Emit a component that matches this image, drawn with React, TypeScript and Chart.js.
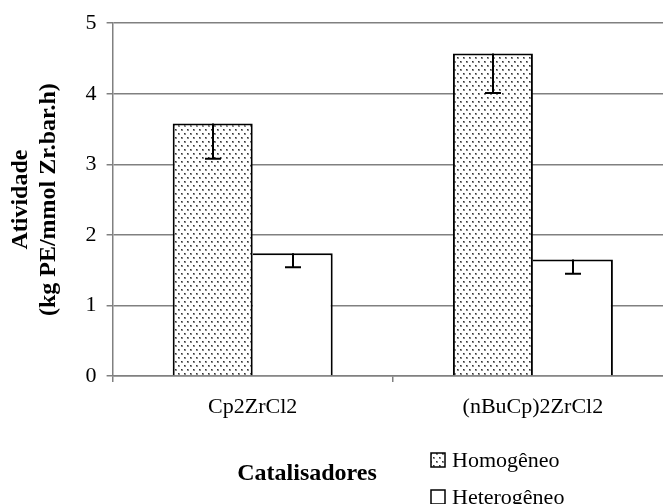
import React, { useEffect, useRef } from 'react';
import { Chart, registerables } from 'chart.js';

Chart.register(...registerables);

const categories = ['Cp2ZrCl2', '(nBuCp)2ZrCl2'];
const seriesNames = ['Homogêneo', 'Heterogêneo'];
const homogeneo = [3.58, 4.57];
const heterogeneo = [1.74, 1.65];
const homogeneoErr = [0.5, 0.56];
const heterogeneoErr = [0.2, 0.2];
const yMin = 0;
const yMax = 5;
const yStep = 1;
const xTitle = 'Catalisadores';
const yTitle = ['Atividade', '(kg PE/mmol Zr.bar.h)'];

const FONT = "'Liberation Serif', 'Times New Roman', serif";

function makeDots(): CanvasPattern | string {
  const c = document.createElement('canvas');
  c.width = 6;
  c.height = 8;
  const g = c.getContext('2d');
  if (!g) return '#ddd';
  g.fillStyle = '#ffffff';
  g.fillRect(0, 0, 6, 8);
  const dot = (x: number, y: number) => {
    g.fillStyle = '#8a8a8a';
    g.fillRect(x, y, 2, 2);
    g.fillStyle = '#333333';
    g.fillRect(x, y, 1, 1);
  };
  dot(1, 1);
  dot(4, 5);
  return g.createPattern(c, 'repeat') || '#ddd';
}

const errorBarsPlugin = {
  id: 'errorBars',
  afterDatasetsDraw(chart: any) {
    const ctx = chart.ctx;
    const yScale = chart.scales.y;
    ctx.save();
    ctx.strokeStyle = '#000';
    ctx.lineWidth = 2;
    chart.data.datasets.forEach((ds: any, di: number) => {
      const meta = chart.getDatasetMeta(di);
      const errs: number[] = ds.errors || [];
      meta.data.forEach((bar: any, i: number) => {
        const v = ds.data[i];
        const e = errs[i] || 0;
        const x = Math.round(bar.x);
        const yTop = yScale.getPixelForValue(v);
        const yBot = yScale.getPixelForValue(v - e);
        ctx.beginPath();
        ctx.moveTo(x, yTop);
        ctx.lineTo(x, yBot);
        ctx.moveTo(x - 8, yBot);
        ctx.lineTo(x + 8, yBot);
        ctx.stroke();
      });
    });
    ctx.restore();
  },
};

const extrasPlugin = {
  id: 'extras',
  afterDraw(chart: any) {
    const ctx = chart.ctx;
    ctx.save();
    // x axis title
    ctx.fillStyle = '#000';
    ctx.font = `bold 24px ${FONT}`;
    ctx.textAlign = 'center';
    ctx.textBaseline = 'middle';
    ctx.fillText(xTitle, 307, 474);
    // legend
    ctx.font = `22px ${FONT}`;
    ctx.textAlign = 'left';
    chart.data.datasets.forEach((ds: any, i: number) => {
      const bx = 431;
      const by = 453 + i * 37;
      ctx.fillStyle = ds.backgroundColor;
      ctx.fillRect(bx, by, 14, 14);
      ctx.strokeStyle = '#000';
      ctx.lineWidth = 1.5;
      ctx.strokeRect(bx, by, 14, 14);
      ctx.fillStyle = '#000';
      ctx.fillText(ds.label, bx + 21, by + 8);
    });
    ctx.restore();
  },
};

export default function App() {
  const ref = useRef<HTMLCanvasElement | null>(null);

  useEffect(() => {
    const canvas = ref.current;
    if (!canvas) return;
    const dots = makeDots();
    const chart = new Chart(canvas, {
      type: 'bar',
      data: {
        labels: categories,
        datasets: [
          {
            label: seriesNames[0],
            data: homogeneo,
            errors: homogeneoErr,
            backgroundColor: dots,
            borderColor: '#000',
            borderWidth: 2,
          } as any,
          {
            label: seriesNames[1],
            data: heterogeneo,
            errors: heterogeneoErr,
            backgroundColor: '#ffffff',
            borderColor: '#000',
            borderWidth: { left: 0, top: 2, right: 2, bottom: 0 },
          } as any,
        ],
      },
      options: {
        animation: false,
        responsive: false,
        maintainAspectRatio: false,
        devicePixelRatio: 1,
        layout: { padding: { top: 7, left: 0, right: 0, bottom: 0 } },
        datasets: {
          bar: { categoryPercentage: 0.571, barPercentage: 1.0 },
        },
        plugins: {
          legend: { display: false },
          tooltip: { enabled: false },
          title: { display: false },
        },
        scales: {
          x: {
            grid: {
              display: true,
              drawOnChartArea: false,
              drawTicks: true,
              tickLength: 6,
              color: '#808080',
              lineWidth: 1.5,
              offset: true,
            },
            border: { display: true, color: '#808080', width: 1.5 },
            ticks: {
              color: '#000',
              font: { family: FONT, size: 22 },
              padding: 12,
            },
            afterFit(scale: any) {
              scale.height = 128;
            },
          },
          y: {
            min: yMin,
            max: yMax,
            grid: {
              color: '#808080',
              lineWidth: 1.5,
              drawTicks: true,
              tickLength: 6,
            },
            border: { display: true, color: '#808080', width: 1.5 },
            ticks: {
              stepSize: yStep,
              color: '#000',
              font: { family: FONT, size: 22 },
              padding: 10,
            },
            title: {
              display: true,
              text: yTitle,
              color: '#000',
              font: { family: FONT, size: 24, weight: 'bold', lineHeight: 1.15 },
              padding: { top: 7, bottom: 0 },
            },
            afterFit(scale: any) {
              scale.width = 112.6;
            },
          },
        },
      } as any,
      plugins: [errorBarsPlugin, extrasPlugin],
    });
    return () => chart.destroy();
  }, []);

  return (
    <div
      style={{
        position: 'fixed',
        left: 0,
        top: 0,
        width: 663,
        height: 504,
        overflow: 'hidden',
        background: '#fff',
      }}
    >
      <canvas ref={ref} width={673} height={504} style={{ display: 'block', width: 673, height: 504 }} />
    </div>
  );
}
